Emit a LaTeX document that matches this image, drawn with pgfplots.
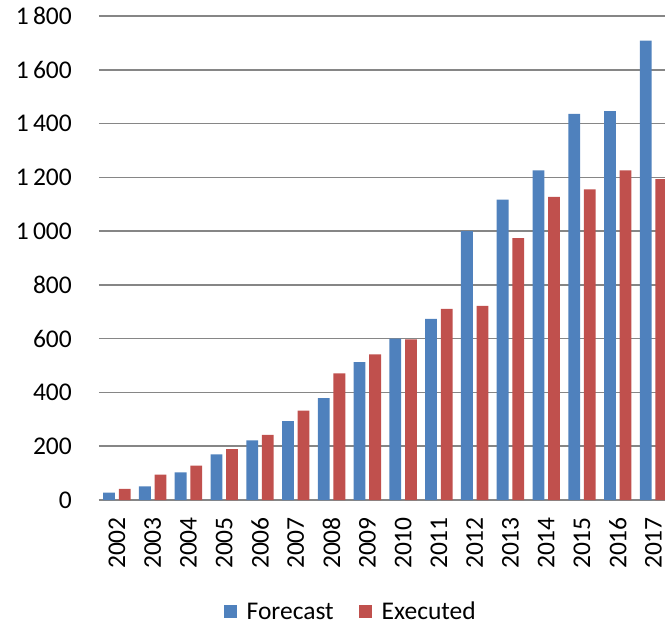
\documentclass[border=0pt]{standalone}
\usepackage{fontspec}
\setmainfont{Carlito}
\usepackage{pgfplots}
\pgfplotsset{compat=1.18}
\definecolor{fcblue}{RGB}{79,129,189}
\definecolor{exred}{RGB}{192,80,77}
\definecolor{gridgray}{RGB}{134,134,134}
\newcommand{\lblfont}{\fontsize{25.5bp}{30bp}\selectfont}
\begin{document}
\begin{tikzpicture}
\begin{axis}[
  width=566bp, height=484bp, scale only axis,
  xmin=-0.5, xmax=15.32, ymin=0, ymax=1800,
  axis x line*=bottom, axis y line*=left,
  y axis line style={draw=none},
  x axis line style={gridgray, line width=1.5bp, -},
  ytick={0,200,...,1800},
  xtick={0,...,15},
  xticklabels={2002,2003,2004,2005,2006,2007,2008,2009,2010,2011,2012,2013,2014,2015,2016,2017},
  major tick length=0pt,
  ymajorgrids, grid style={gridgray, line width=1.5bp},
  tick label style={font=\lblfont},
  /pgf/number format/assume math mode=true,
  /pgf/number format/1000 sep={\,},
  yticklabel style={anchor=east, inner sep=0pt}, yticklabel shift=27bp,
  xticklabel style={rotate=90, anchor=east, inner sep=0pt}, xticklabel shift=17bp,
  bar width=0.33,
  legend style={draw=none, fill=none, legend columns=2, at={(0.443,-0.231)}, anchor=center,
    font=\lblfont, nodes={inner sep=0pt},
    /tikz/every odd column/.append style={column sep=10bp},
    /tikz/every even column/.append style={column sep=25bp}},
  legend image code/.code={\fill[#1] (0bp,-6.5bp) rectangle (13bp,6.5bp);},
]
\addplot[ybar, fill=fcblue, draw=none, bar shift=-0.218] coordinates {
(0,27) (1,51) (2,103) (3,170) (4,222) (5,293) (6,379) (7,513) (8,600) (9,674) (10,1000) (11,1117) (12,1226) (13,1436) (14,1446) (15,1708)};
\addlegendentry{Forecast}
\addplot[ybar, fill=exred, draw=none, bar shift=0.218] coordinates {
(0,41) (1,94) (2,128) (3,189) (4,242) (5,332) (6,471) (7,542) (8,597) (9,711) (10,722) (11,974) (12,1127) (13,1155) (14,1226) (15,1193)};
\addlegendentry{Executed}
\coordinate (bl) at (rel axis cs:0,0);
\coordinate (tr) at (rel axis cs:1,1);
\end{axis}
\pgfresetboundingbox
\path[use as bounding box] ([xshift=-99bp,yshift=-128bp]bl) rectangle ([yshift=16bp]tr);
\end{tikzpicture}
\end{document}
